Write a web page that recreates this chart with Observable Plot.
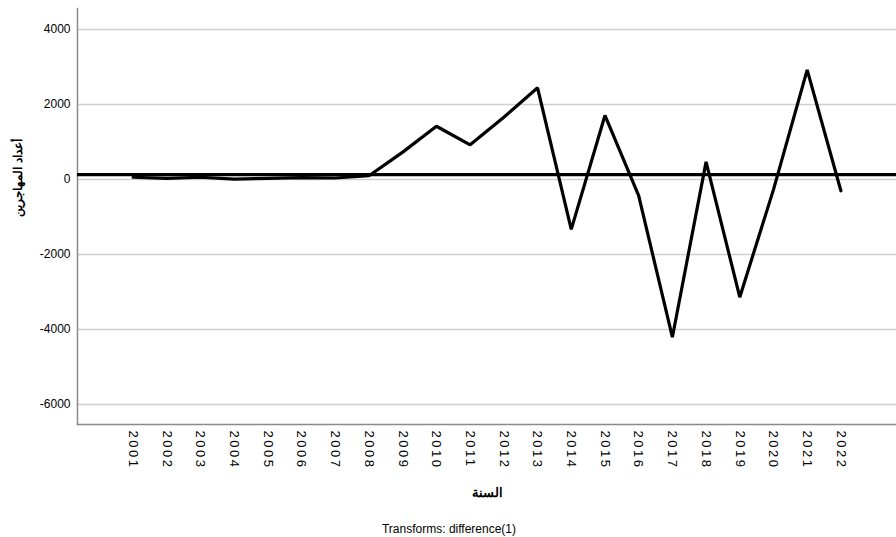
<!DOCTYPE html>
<html>
<head>
<meta charset="utf-8">
<script src="https://cdn.jsdelivr.net/npm/d3@7"></script>
<script src="https://cdn.jsdelivr.net/npm/@observablehq/plot@0.6"></script>
<style>
  html, body { margin: 0; padding: 0; background: #fff; }
  svg { display: block; }
</style>
</head>
<body>
<div id="chart"></div>
<script>
const years = ["2001","2002","2003","2004","2005","2006","2007","2008","2009","2010","2011",
               "2012","2013","2014","2015","2016","2017","2018","2019","2020","2021","2022"];
const values = [60, 30, 60, 10, 30, 50, 40, 100, 730, 1420, 925,
                1660, 2445, -1330, 1707, -430, -4205, 470, -3138, -270, 2925, -300];
const refLine = 130;
const yTicks = [-6000, -4000, -2000, 0, 2000, 4000];
const yLabel = "أعداد المهاجرين";
const xLabel = "السنة";
const caption = "Transforms: difference(1)";

const data = years.map((y, i) => ({year: y, value: values[i]}));
const font = "'Liberation Sans', Arial, sans-serif";

const chart = Plot.plot({
  width: 896,
  height: 537,
  marginTop: 8,
  marginBottom: 113,
  marginLeft: 77,
  marginRight: 0,
  style: {fontFamily: font, fontSize: "12px", color: "#000", background: "#fff"},
  x: {type: "point", domain: years, padding: 1.65, round: false},
  y: {domain: [-6533, 4560]},
  marks: [
    Plot.gridY(yTicks, {stroke: "#cfcfcf", strokeOpacity: 1, strokeWidth: 1.5}),
    Plot.frame({anchor: "left", stroke: "#8a8a8a", strokeWidth: 1.5}),
    Plot.frame({anchor: "bottom", stroke: "#8a8a8a", strokeWidth: 1.5}),
    Plot.ruleY([refLine], {stroke: "#000", strokeWidth: 3.2}),
    Plot.line(data, {x: "year", y: "value", stroke: "#000", strokeWidth: 3.2, strokeLinejoin: "miter"}),
    Plot.axisY(yTicks, {tickSize: 0, tickPadding: 7, fontSize: 12, label: null, tickFormat: d => String(d)}),
    Plot.axisX({tickRotate: 90, tickSize: 0, tickPadding: 6, fontSize: 13, label: null}),
    Plot.text([yLabel], {frameAnchor: "left", rotate: -90, dx: -59, fontSize: 12, fontWeight: "bold"}),
    Plot.text([xLabel], {frameAnchor: "bottom", dy: 72, fontSize: 13, fontWeight: "bold"}),
    Plot.text([caption], {frameAnchor: "bottom", dx: -38, dy: 108, fontSize: 12})
  ]
});
d3.select(chart).selectAll("g[aria-label='x-axis tick label'] text").style("letter-spacing", "2.5px");
document.getElementById("chart").appendChild(chart);
</script>
</body>
</html>
